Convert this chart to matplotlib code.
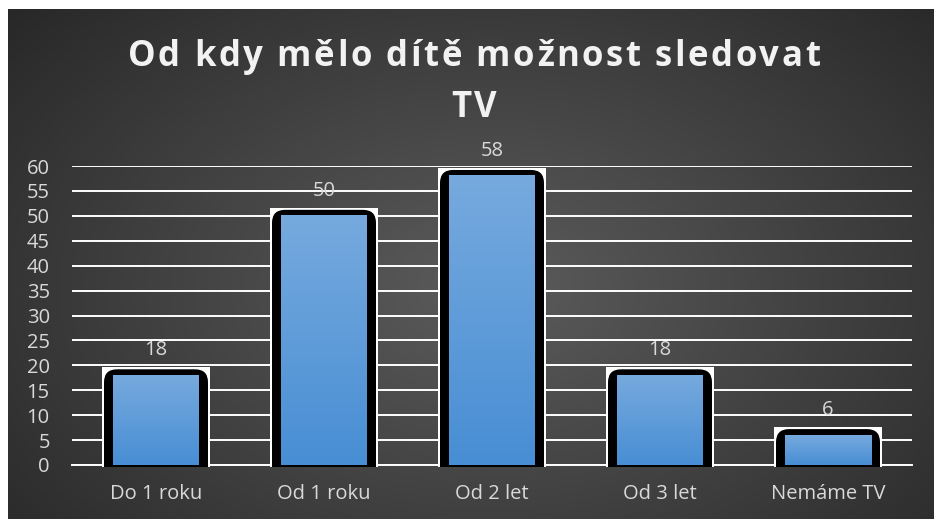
import numpy as np
import matplotlib
matplotlib.use("Agg")
import matplotlib.pyplot as plt
from matplotlib.patches import Rectangle, FancyBboxPatch

categories = ["Do 1 roku", "Od 1 roku", "Od 2 let", "Od 3 let", "Nemáme TV"]
values = [18, 50, 58, 18, 6]
yticks = list(range(0, 61, 5))
title_lines = ["Od kdy mělo dítě možnost sledovat", "TV"]

W, H = 934, 519
fig = plt.figure(figsize=(W / 100, H / 100), dpi=100, facecolor="white")

# radial dark background (white strip left and top like the screenshot)
bg = fig.add_axes([8 / W, 0, 1 - 8 / W, 1 - 9 / H])
bg.set_axis_off()
yy, xx = np.mgrid[0:1:300j, 0:1:500j]
r = np.sqrt(((xx - 0.52) / 0.75) ** 2 + ((yy - 0.55) / 0.9) ** 2)
shade = np.clip(0.36 - 0.22 * r, 0.14, 0.36)
bg.imshow(np.dstack([shade] * 3), aspect="auto", extent=[0, 1, 0, 1], interpolation="bicubic")

ax = fig.add_axes([72 / W, 54 / H, 840 / W, 299 / H])
ax.patch.set_alpha(0)
ax.set_xlim(-0.5, 4.5)
ax.set_ylim(0, 60)

px_x = 5 / 840
px_y = 60 / 299

top_rgb = np.array([118, 170, 222]) / 255
bot_rgb = np.array([72, 142, 212]) / 255
grad = np.linspace(0, 1, 100)[:, None, None]
grad_img = top_rgb * (1 - grad) + bot_rgb * grad

lab_font = "Open Sans"
lab_size = 14.5

for i, v in enumerate(values):
    wr = Rectangle((i - 54 * px_x, -0.4), 108 * px_x, v + 8 * px_y + 0.4,
                   facecolor="white", edgecolor="none", zorder=2, clip_on=False)
    ax.add_patch(wr)
    rad = 13 * px_x
    blk = FancyBboxPatch((i - 52 * px_x, -3), 104 * px_x, v + 6 * px_y + 3,
                         boxstyle=f"round,pad=0,rounding_size={rad}",
                         mutation_aspect=px_y / px_x,
                         facecolor="black", edgecolor="none", zorder=3)
    ax.add_patch(blk)
    blk.set_clip_path(wr)
    ax.imshow(grad_img, extent=[i - 43 * px_x, i + 43 * px_x, 0, v], aspect="auto",
              zorder=4, interpolation="bilinear")
    ax.annotate(str(v), (i, v), xytext=(0, 18), textcoords="offset points",
                ha="center", va="center", color="#d9d9d9", fontsize=lab_size,
                family=lab_font, annotation_clip=False, zorder=5)

ax.set_xlim(-0.5, 4.5)
ax.set_ylim(0, 60)
ax.set_yticks(yticks)
ax.set_xticks(range(len(categories)))
ax.set_xticklabels(categories)
ax.yaxis.grid(True, color="white", linewidth=1.4)
ax.set_axisbelow(True)
for s in ["top", "left", "right"]:
    ax.spines[s].set_visible(False)
ax.spines["bottom"].set_color("white")
ax.spines["bottom"].set_linewidth(1.4)
ax.spines["bottom"].set_zorder(1)
ax.tick_params(axis="both", length=0, colors="#d9d9d9", labelsize=lab_size)
ax.tick_params(axis="y", pad=16)
ax.tick_params(axis="x", pad=14)
for lab in ax.get_xticklabels() + ax.get_yticklabels():
    lab.set_family(lab_font)

# title with letter spacing, placed char by char
renderer = fig.canvas.get_renderer()
tkw = dict(color="#f2f2f2", fontsize=25, fontweight="bold", family="Open Sans", va="center")
spacing = 2.6
for line, yc in zip(title_lines, [H - 57, H - 108]):
    widths = []
    for ch in line:
        if ch == " ":
            t = fig.text(0, 0, "a a", **tkw)
            w_aa = t.get_window_extent(renderer).width
            t.remove()
            t = fig.text(0, 0, "aa", **tkw)
            w_aa2 = t.get_window_extent(renderer).width
            t.remove()
            widths.append(w_aa - w_aa2)
        else:
            t = fig.text(0, 0, ch, **tkw)
            widths.append(t.get_window_extent(renderer).width)
            t.remove()
    total = sum(widths) + spacing * (len(line) - 1)
    x = 474 - total / 2
    for ch, w in zip(line, widths):
        if ch != " ":
            fig.text(x / W, yc / H, ch, ha="left", **tkw)
        x += w + spacing

fig.savefig("out.png", dpi=100, facecolor="white")
